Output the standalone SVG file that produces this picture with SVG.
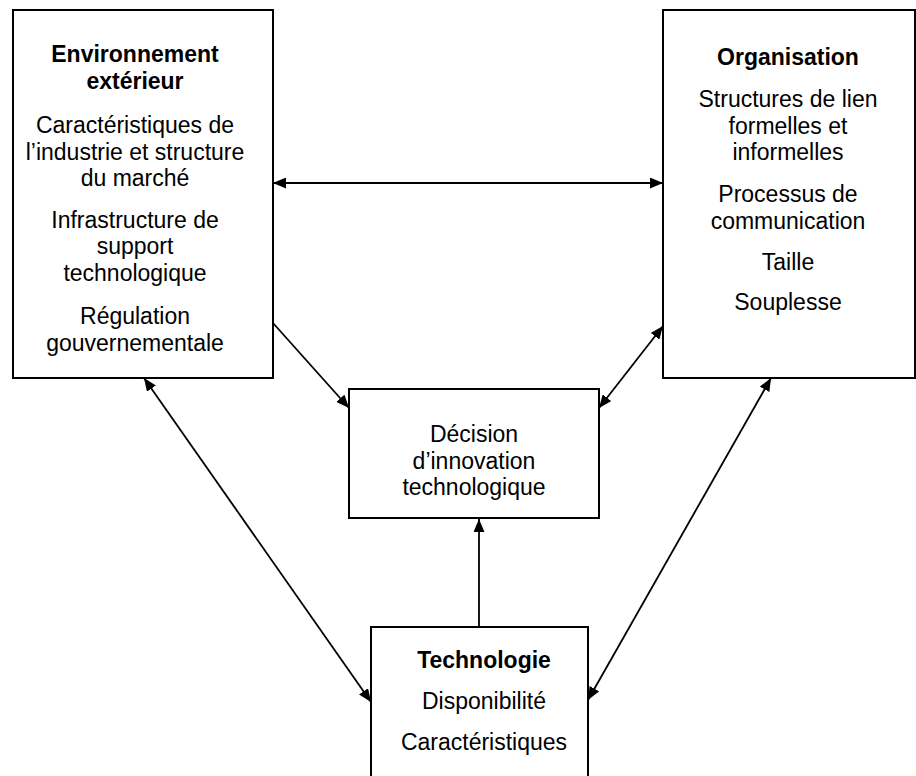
<svg xmlns="http://www.w3.org/2000/svg" width="916" height="776" viewBox="0 0 916 776">
<style>
.box{fill:#fff;stroke:#000;stroke-width:2}
text{font-family:"Liberation Sans",Arial,sans-serif;font-size:23px;fill:#000;text-anchor:middle}
.b{font-weight:bold}
.c{stroke:#000;stroke-width:1.8;fill:none}
</style>
<defs>
<marker id="ah" markerUnits="userSpaceOnUse" markerWidth="14" markerHeight="11" refX="13" refY="5.5" orient="auto-start-reverse" viewBox="0 0 14 11">
<path d="M0,0 L13,5.5 L0,11 z" fill="#000"/>
</marker>
</defs>
<g id="environnement">
<rect class="box" x="13" y="10" width="260" height="368"/>
<text class="b" x="135" y="62">Environnement</text>
<text class="b" x="135" y="88.5">extérieur</text>
<text x="135" y="133">Caractéristiques de</text>
<text x="135" y="159.5">l’industrie et structure</text>
<text x="135" y="186">du marché</text>
<text x="135" y="227.5">Infrastructure de</text>
<text x="135" y="254">support</text>
<text x="135" y="280.5">technologique</text>
<text x="135" y="324">Régulation</text>
<text x="135" y="350.5">gouvernementale</text>
</g>
<g id="organisation">
<rect class="box" x="663" y="10" width="252" height="368"/>
<text class="b" x="788" y="65">Organisation</text>
<text x="788" y="107">Structures de lien</text>
<text x="788" y="133.5">formelles et</text>
<text x="788" y="160">informelles</text>
<text x="788" y="202">Processus de</text>
<text x="788" y="228.5">communication</text>
<text x="788" y="270">Taille</text>
<text x="788" y="310">Souplesse</text>
</g>
<g id="decision">
<rect class="box" x="349" y="389" width="250" height="129"/>
<text x="474" y="442">Décision</text>
<text x="474" y="468.5">d’innovation</text>
<text x="474" y="495">technologique</text>
</g>
<g id="technologie">
<rect class="box" x="371" y="627" width="217" height="160"/>
<text class="b" x="484" y="668">Technologie</text>
<text x="484" y="709">Disponibilité</text>
<text x="484" y="750">Caractéristiques</text>
</g>
<g id="connectors">
<line class="c" x1="273" y1="183" x2="663" y2="183" marker-start="url(#ah)" marker-end="url(#ah)"/>
<line class="c" x1="273" y1="323" x2="349" y2="408" marker-end="url(#ah)"/>
<line class="c" x1="663" y1="326" x2="599" y2="408" marker-start="url(#ah)" marker-end="url(#ah)"/>
<line class="c" x1="144" y1="378" x2="371" y2="702" marker-start="url(#ah)" marker-end="url(#ah)"/>
<line class="c" x1="771" y1="378" x2="588" y2="700" marker-start="url(#ah)" marker-end="url(#ah)"/>
<line class="c" x1="479" y1="627" x2="479" y2="519" marker-end="url(#ah)"/>
</g>
</svg>
